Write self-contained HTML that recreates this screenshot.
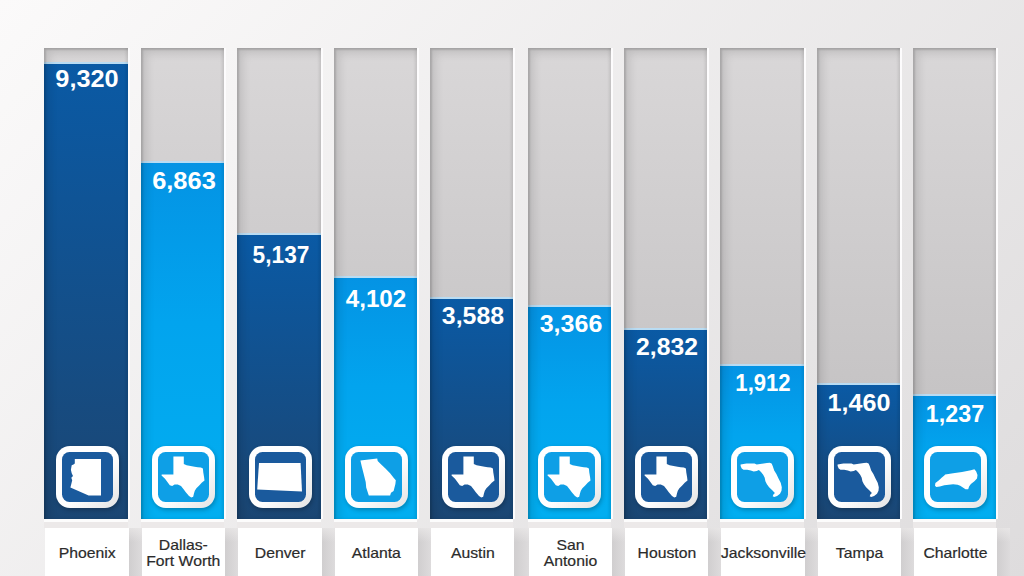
<!DOCTYPE html><html><head><meta charset='utf-8'><style>

*{margin:0;padding:0;box-sizing:border-box}
html,body{width:1024px;height:576px;overflow:hidden}
body{position:relative;font-family:"Liberation Sans",sans-serif;
 background:linear-gradient(134.7deg,#fbfafa,#dedcdd);}
.a{position:absolute}
.track{top:48px;height:471px;background:linear-gradient(#d9d7d8,#bfbdbe);}
.hl{top:48px;height:471px;width:2px;background:#fdfcfd}
.bar{}
.bar.d{background:linear-gradient(#0a5aa5,#1b4673)}
.bar.l{background:linear-gradient(#0493e4 0%,#02a4ee 45%,#02aef0 100%)}
.line{height:1.5px;background:#b9dcf3}
.sh{top:48px;height:471px;box-shadow:inset 2px 2px 2px rgba(0,0,0,.13), inset 5px 5px 10px rgba(0,0,0,.12), inset -2px 0 3px rgba(0,0,0,.08)}
.val{color:#fff;font-weight:bold;font-size:23px;text-align:center;line-height:23px}
.ic{width:63px;height:62px;border-radius:14px;box-shadow:1px 2px 4px rgba(0,0,0,.25)}
.ic svg{position:absolute;left:0;top:0}
.below{top:519px;height:9px;background:linear-gradient(#fcfcfc 0,#fcfcfc 3px,#ece9e9 3px)}
.lab{top:528px;height:48px;padding-top:1px;background:#fff;color:#2b2b2b;font-size:15px;line-height:16px;-webkit-text-stroke:0.2px #2b2b2b;text-align:center;display:flex;align-items:center;justify-content:center}
.lsh{top:528px;height:48px;width:13px;background:linear-gradient(rgba(236,234,234,.7),rgba(236,234,234,0) 14px),linear-gradient(90deg,#d0cecf,#dddbdc)}

</style></head><body>
<div class='a track' style='left:44px;width:84px'></div>
<div class='a hl' style='left:128px'></div>
<div class='a bar d' style='left:44px;width:84px;top:62px;height:457px'></div>
<div class='a line' style='left:44px;width:84px;top:62px'></div>
<div class='a sh' style='left:44px;width:84px'></div>
<div class='a val' style='left:37.30px;width:100px;top:68.0px;transform:scaleX(1.100)'>9,320</div>
<div class='a ic' style='left:56px;top:446px'><svg width='63' height='62' viewBox='0 0 63 62'><defs><linearGradient id='g44' x1='0' y1='0' x2='1' y2='1'><stop offset='0.55' stop-color='#fff'/><stop offset='1' stop-color='#e3e3e3'/></linearGradient></defs><rect x='0' y='0' width='63' height='62' rx='14' fill='url(#g44)'/><rect x='6' y='6' width='51' height='50' rx='7.5' fill='#1a5a9d'/><path transform='translate(6 6)' d='M12.8 7.1 L39 7.1 L39 43.4 L26.6 43.4 L8.4 35.4 L9.3 31.9 L10.2 28.3 L9.3 25.7 L11 23.9 L9.7 21.3 L8.9 17.7 L9.7 13.3 L11.5 12.4 L12.8 11.5 Z' fill='#fff'/></svg></div>
<div class='a below' style='left:44px;width:84px'></div>
<div class='a lsh' style='left:129px;width:13px'></div>
<div class='a lab' style='left:45px;width:84px'><div style='transform:scaleX(1.05)'>Phoenix</div></div>
<div class='a track' style='left:141px;width:83px'></div>
<div class='a hl' style='left:224px'></div>
<div class='a bar l' style='left:141px;width:83px;top:161px;height:358px'></div>
<div class='a line' style='left:141px;width:83px;top:161px'></div>
<div class='a sh' style='left:141px;width:83px'></div>
<div class='a val' style='left:133.70px;width:100px;top:170.3px;transform:scaleX(1.107)'>6,863</div>
<div class='a ic' style='left:152px;top:446px'><svg width='63' height='62' viewBox='0 0 63 62'><defs><linearGradient id='g141' x1='0' y1='0' x2='1' y2='1'><stop offset='0.55' stop-color='#fff'/><stop offset='1' stop-color='#e3e3e3'/></linearGradient></defs><rect x='0' y='0' width='63' height='62' rx='14' fill='url(#g141)'/><rect x='6' y='6' width='51' height='50' rx='7.5' fill='#0e9fe6'/><path transform='translate(6 6)' d='M15.4 4.4 L25.8 4.4 L25.8 12 L28.6 13.2 L32.6 14 L36.6 14.8 L39.7 15.2 L42.9 15.6 L44.9 16.4 L45.3 20.4 L46.1 25.2 L46.5 28.4 L43.7 30.8 L41.2 33.6 L38.4 36.3 L36.8 38.8 L35.9 41.8 L35.2 44.8 L33.3 45.5 L31 43.9 L27.8 40.3 L25.4 37.1 L23 34 L19.8 32.4 L16.6 32.4 L14.2 34 L11.8 33.2 L9.4 30 L7 26.8 L4.6 24.4 L3.4 23.2 L3.8 22.4 L15.4 22.4 Z' fill='#fff'/></svg></div>
<div class='a below' style='left:141px;width:83px'></div>
<div class='a lsh' style='left:225px;width:13px'></div>
<div class='a lab' style='left:142px;width:83px'><div style='transform:scaleX(1.05)'>Dallas-<br>Fort Worth</div></div>
<div class='a track' style='left:237px;width:84px'></div>
<div class='a hl' style='left:321px'></div>
<div class='a bar d' style='left:237px;width:84px;top:233px;height:286px'></div>
<div class='a line' style='left:237px;width:84px;top:233px'></div>
<div class='a sh' style='left:237px;width:84px'></div>
<div class='a val' style='left:230.55px;width:100px;top:244.4px;transform:scaleX(0.987)'>5,137</div>
<div class='a ic' style='left:249px;top:446px'><svg width='63' height='62' viewBox='0 0 63 62'><defs><linearGradient id='g237' x1='0' y1='0' x2='1' y2='1'><stop offset='0.55' stop-color='#fff'/><stop offset='1' stop-color='#e3e3e3'/></linearGradient></defs><rect x='0' y='0' width='63' height='62' rx='14' fill='url(#g237)'/><rect x='6' y='6' width='51' height='50' rx='7.5' fill='#1a5a9d'/><path transform='translate(6 6)' d='M4 11.1 L45.6 11.1 L47 39.4 L2.2 37.6 Z' fill='#fff'/></svg></div>
<div class='a below' style='left:237px;width:84px'></div>
<div class='a lsh' style='left:322px;width:13px'></div>
<div class='a lab' style='left:238px;width:84px'><div style='transform:scaleX(1.05)'>Denver</div></div>
<div class='a track' style='left:334px;width:83px'></div>
<div class='a hl' style='left:417px'></div>
<div class='a bar l' style='left:334px;width:83px;top:276px;height:243px'></div>
<div class='a line' style='left:334px;width:83px;top:276px'></div>
<div class='a sh' style='left:334px;width:83px'></div>
<div class='a val' style='left:325.90px;width:100px;top:288.2px;transform:scaleX(1.052)'>4,102</div>
<div class='a ic' style='left:345px;top:446px'><svg width='63' height='62' viewBox='0 0 63 62'><defs><linearGradient id='g334' x1='0' y1='0' x2='1' y2='1'><stop offset='0.55' stop-color='#fff'/><stop offset='1' stop-color='#e3e3e3'/></linearGradient></defs><rect x='0' y='0' width='63' height='62' rx='14' fill='url(#g334)'/><rect x='6' y='6' width='51' height='50' rx='7.5' fill='#0e9fe6'/><path transform='translate(6 6)' d='M9.4 8.4 L26.2 6.6 L26.7 8.9 L30.2 12.4 L34.7 16.8 L39.1 21.3 L42.6 25.7 L44.8 28.3 L44.4 31.9 L43.5 35.4 L42.6 39 L40 40.7 L39.1 43.4 L17.8 43.4 L16.9 40.7 L15.2 35.4 L14.7 30.1 L12.5 21.3 L10.7 14.2 Z' fill='#fff'/></svg></div>
<div class='a below' style='left:334px;width:83px'></div>
<div class='a lsh' style='left:418px;width:13px'></div>
<div class='a lab' style='left:335px;width:83px'><div style='transform:scaleX(1.05)'>Atlanta</div></div>
<div class='a track' style='left:430px;width:83px'></div>
<div class='a hl' style='left:513px'></div>
<div class='a bar d' style='left:430px;width:83px;top:297px;height:222px'></div>
<div class='a line' style='left:430px;width:83px;top:297px'></div>
<div class='a sh' style='left:430px;width:83px'></div>
<div class='a val' style='left:422.75px;width:100px;top:305.4px;transform:scaleX(1.083)'>3,588</div>
<div class='a ic' style='left:442px;top:446px'><svg width='63' height='62' viewBox='0 0 63 62'><defs><linearGradient id='g430' x1='0' y1='0' x2='1' y2='1'><stop offset='0.55' stop-color='#fff'/><stop offset='1' stop-color='#e3e3e3'/></linearGradient></defs><rect x='0' y='0' width='63' height='62' rx='14' fill='url(#g430)'/><rect x='6' y='6' width='51' height='50' rx='7.5' fill='#1a5a9d'/><path transform='translate(6 6)' d='M15.4 4.4 L25.8 4.4 L25.8 12 L28.6 13.2 L32.6 14 L36.6 14.8 L39.7 15.2 L42.9 15.6 L44.9 16.4 L45.3 20.4 L46.1 25.2 L46.5 28.4 L43.7 30.8 L41.2 33.6 L38.4 36.3 L36.8 38.8 L35.9 41.8 L35.2 44.8 L33.3 45.5 L31 43.9 L27.8 40.3 L25.4 37.1 L23 34 L19.8 32.4 L16.6 32.4 L14.2 34 L11.8 33.2 L9.4 30 L7 26.8 L4.6 24.4 L3.4 23.2 L3.8 22.4 L15.4 22.4 Z' fill='#fff'/></svg></div>
<div class='a below' style='left:430px;width:83px'></div>
<div class='a lsh' style='left:514px;width:15px'></div>
<div class='a lab' style='left:431px;width:83px'><div style='transform:scaleX(1.05)'>Austin</div></div>
<div class='a track' style='left:528px;width:83px'></div>
<div class='a hl' style='left:611px'></div>
<div class='a bar l' style='left:528px;width:83px;top:305px;height:214px'></div>
<div class='a line' style='left:528px;width:83px;top:305px'></div>
<div class='a sh' style='left:528px;width:83px'></div>
<div class='a val' style='left:520.60px;width:100px;top:312.7px;transform:scaleX(1.089)'>3,366</div>
<div class='a ic' style='left:538px;top:446px'><svg width='63' height='62' viewBox='0 0 63 62'><defs><linearGradient id='g528' x1='0' y1='0' x2='1' y2='1'><stop offset='0.55' stop-color='#fff'/><stop offset='1' stop-color='#e3e3e3'/></linearGradient></defs><rect x='0' y='0' width='63' height='62' rx='14' fill='url(#g528)'/><rect x='6' y='6' width='51' height='50' rx='7.5' fill='#0e9fe6'/><path transform='translate(6 6)' d='M15.4 4.4 L25.8 4.4 L25.8 12 L28.6 13.2 L32.6 14 L36.6 14.8 L39.7 15.2 L42.9 15.6 L44.9 16.4 L45.3 20.4 L46.1 25.2 L46.5 28.4 L43.7 30.8 L41.2 33.6 L38.4 36.3 L36.8 38.8 L35.9 41.8 L35.2 44.8 L33.3 45.5 L31 43.9 L27.8 40.3 L25.4 37.1 L23 34 L19.8 32.4 L16.6 32.4 L14.2 34 L11.8 33.2 L9.4 30 L7 26.8 L4.6 24.4 L3.4 23.2 L3.8 22.4 L15.4 22.4 Z' fill='#fff'/></svg></div>
<div class='a below' style='left:528px;width:83px'></div>
<div class='a lsh' style='left:612px;width:13px'></div>
<div class='a lab' style='left:529px;width:83px'><div style='transform:scaleX(1.05)'>San<br>Antonio</div></div>
<div class='a track' style='left:624px;width:83px'></div>
<div class='a hl' style='left:707px'></div>
<div class='a bar d' style='left:624px;width:83px;top:328px;height:191px'></div>
<div class='a line' style='left:624px;width:83px;top:328px'></div>
<div class='a sh' style='left:624px;width:83px'></div>
<div class='a val' style='left:617.00px;width:100px;top:335.7px;transform:scaleX(1.076)'>2,832</div>
<div class='a ic' style='left:635px;top:446px'><svg width='63' height='62' viewBox='0 0 63 62'><defs><linearGradient id='g624' x1='0' y1='0' x2='1' y2='1'><stop offset='0.55' stop-color='#fff'/><stop offset='1' stop-color='#e3e3e3'/></linearGradient></defs><rect x='0' y='0' width='63' height='62' rx='14' fill='url(#g624)'/><rect x='6' y='6' width='51' height='50' rx='7.5' fill='#1a5a9d'/><path transform='translate(6 6)' d='M15.4 4.4 L25.8 4.4 L25.8 12 L28.6 13.2 L32.6 14 L36.6 14.8 L39.7 15.2 L42.9 15.6 L44.9 16.4 L45.3 20.4 L46.1 25.2 L46.5 28.4 L43.7 30.8 L41.2 33.6 L38.4 36.3 L36.8 38.8 L35.9 41.8 L35.2 44.8 L33.3 45.5 L31 43.9 L27.8 40.3 L25.4 37.1 L23 34 L19.8 32.4 L16.6 32.4 L14.2 34 L11.8 33.2 L9.4 30 L7 26.8 L4.6 24.4 L3.4 23.2 L3.8 22.4 L15.4 22.4 Z' fill='#fff'/></svg></div>
<div class='a below' style='left:624px;width:83px'></div>
<div class='a lsh' style='left:708px;width:13px'></div>
<div class='a lab' style='left:625px;width:83px'><div style='transform:scaleX(1.05)'>Houston</div></div>
<div class='a track' style='left:720px;width:84px'></div>
<div class='a hl' style='left:804px'></div>
<div class='a bar l' style='left:720px;width:84px;top:364px;height:155px'></div>
<div class='a line' style='left:720px;width:84px;top:364px'></div>
<div class='a sh' style='left:720px;width:84px'></div>
<div class='a val' style='left:713.25px;width:100px;top:372.3px;transform:scaleX(0.961)'>1,912</div>
<div class='a ic' style='left:731px;top:446px'><svg width='63' height='62' viewBox='0 0 63 62'><defs><linearGradient id='g720' x1='0' y1='0' x2='1' y2='1'><stop offset='0.55' stop-color='#fff'/><stop offset='1' stop-color='#e3e3e3'/></linearGradient></defs><rect x='0' y='0' width='63' height='62' rx='14' fill='url(#g720)'/><rect x='6' y='6' width='51' height='50' rx='7.5' fill='#0e9fe6'/><path transform='translate(6 6)' d='M3.6 12.6 L9.45 11.5 L17.5 11.5 L19.7 12.6 L24.8 11.8 L29.9 11.1 L32.8 10.7 L34.6 11.5 L35.7 14 L37.2 18.4 L39.4 22 L41.5 26.4 L43.7 30.8 L44.8 35.2 L44.5 38.8 L43 41.7 L40.1 43.9 L37.2 45 L35.7 44.3 L36.4 42.5 L37.9 41 L35 38.1 L32.1 35.2 L29.9 32.3 L28.4 29.3 L27.7 25.7 L26.2 22.8 L24 19.9 L21.9 18 L19.7 19.1 L16.7 19.5 L13.8 18.4 L10.2 17.7 L6.5 17.7 L4.7 16.6 L3.6 14 Z' fill='#fff'/></svg></div>
<div class='a below' style='left:720px;width:84px'></div>
<div class='a lsh' style='left:805px;width:13px'></div>
<div class='a lab' style='left:721px;width:84px'><div style='transform:scaleX(1.05)'>Jacksonville</div></div>
<div class='a track' style='left:817px;width:83px'></div>
<div class='a hl' style='left:900px'></div>
<div class='a bar d' style='left:817px;width:83px;top:383px;height:136px'></div>
<div class='a line' style='left:817px;width:83px;top:383px'></div>
<div class='a sh' style='left:817px;width:83px'></div>
<div class='a val' style='left:809.05px;width:100px;top:392.1px;transform:scaleX(1.094)'>1,460</div>
<div class='a ic' style='left:828px;top:446px'><svg width='63' height='62' viewBox='0 0 63 62'><defs><linearGradient id='g817' x1='0' y1='0' x2='1' y2='1'><stop offset='0.55' stop-color='#fff'/><stop offset='1' stop-color='#e3e3e3'/></linearGradient></defs><rect x='0' y='0' width='63' height='62' rx='14' fill='url(#g817)'/><rect x='6' y='6' width='51' height='50' rx='7.5' fill='#1a5a9d'/><path transform='translate(6 6)' d='M3.6 12.6 L9.45 11.5 L17.5 11.5 L19.7 12.6 L24.8 11.8 L29.9 11.1 L32.8 10.7 L34.6 11.5 L35.7 14 L37.2 18.4 L39.4 22 L41.5 26.4 L43.7 30.8 L44.8 35.2 L44.5 38.8 L43 41.7 L40.1 43.9 L37.2 45 L35.7 44.3 L36.4 42.5 L37.9 41 L35 38.1 L32.1 35.2 L29.9 32.3 L28.4 29.3 L27.7 25.7 L26.2 22.8 L24 19.9 L21.9 18 L19.7 19.1 L16.7 19.5 L13.8 18.4 L10.2 17.7 L6.5 17.7 L4.7 16.6 L3.6 14 Z' fill='#fff'/></svg></div>
<div class='a below' style='left:817px;width:83px'></div>
<div class='a lsh' style='left:901px;width:13px'></div>
<div class='a lab' style='left:818px;width:83px'><div style='transform:scaleX(1.05)'>Tampa</div></div>
<div class='a track' style='left:913px;width:83px'></div>
<div class='a hl' style='left:996px'></div>
<div class='a bar l' style='left:913px;width:83px;top:394px;height:125px'></div>
<div class='a line' style='left:913px;width:83px;top:394px'></div>
<div class='a sh' style='left:913px;width:83px'></div>
<div class='a val' style='left:905.25px;width:100px;top:403.1px;transform:scaleX(1.013)'>1,237</div>
<div class='a ic' style='left:924px;top:446px'><svg width='63' height='62' viewBox='0 0 63 62'><defs><linearGradient id='g913' x1='0' y1='0' x2='1' y2='1'><stop offset='0.55' stop-color='#fff'/><stop offset='1' stop-color='#e3e3e3'/></linearGradient></defs><rect x='0' y='0' width='63' height='62' rx='14' fill='url(#g913)'/><rect x='6' y='6' width='51' height='50' rx='7.5' fill='#0e9fe6'/><path transform='translate(6 6)' d='M5 33.7 L5.4 31 L9 28.3 L11.6 25.7 L14.3 23.5 L15.2 22.6 L23.1 21.3 L32 19.9 L40.9 18.2 L44.4 17.3 L46.2 19.5 L47.5 23 L47 26.6 L44.4 29.2 L40.9 31.9 L39.1 34.5 L38.2 37.2 L35.5 37.2 L32.9 35.4 L30.2 33.7 L27.6 32.8 L23.1 32.3 L18.7 32.8 L14.3 33.2 L9.9 34.5 L6.3 35 Z' fill='#fff'/></svg></div>
<div class='a below' style='left:913px;width:83px'></div>
<div class='a lsh' style='left:997px;width:13px'></div>
<div class='a lab' style='left:914px;width:83px'><div style='transform:scaleX(1.05)'>Charlotte</div></div>
</body></html>
